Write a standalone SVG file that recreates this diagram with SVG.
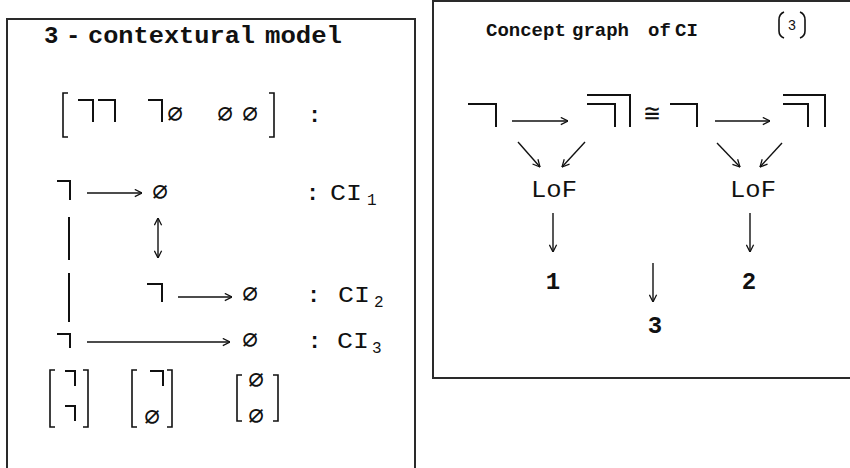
<svg xmlns="http://www.w3.org/2000/svg" width="850" height="468" viewBox="0 0 850 468">
<style>
.box{fill:#fff;stroke:#2a2a2a;stroke-width:2}
.mk{fill:none;stroke:#111;stroke-width:2}
.br{fill:none;stroke:#111;stroke-width:1.6}
.ar{fill:none;stroke:#111;stroke-width:1.4}
.tb{font-family:"Liberation Mono","Courier New",monospace;font-weight:bold;fill:#111}
.tr{font-family:"Liberation Mono","Courier New",monospace;fill:#111}
.es{font-family:"DejaVu Sans Mono","DejaVu Sans",monospace;fill:#111;font-size:26px;text-anchor:middle}
</style>
<defs>
<marker id="ah" viewBox="0 0 10 10" refX="9.5" refY="5" markerWidth="9" markerHeight="9" markerUnits="userSpaceOnUse" orient="auto-start-reverse">
<path d="M1.5,1 L9.5,5 L1.5,9" fill="none" stroke="#111" stroke-width="1.4"/>
</marker>
</defs>
<rect width="850" height="468" fill="#fff"/>
<g id="left-panel">
<rect class="box" x="7" y="19" width="408" height="470"/>
<text class="tb" font-size="24" y="43"><tspan x="44">3</tspan><tspan x="66">-</tspan></text>
<text class="tb" font-size="24" x="88" y="43" textLength="167" lengthAdjust="spacingAndGlyphs">contextural</text>
<text class="tb" font-size="24" x="265" y="43" textLength="77" lengthAdjust="spacingAndGlyphs">model</text>
</g>
<g id="node-row-patterns">
<path class="br" d="M68 93 H63 V137 H68 M269 93 H274 V137 H269"/>
<path class="mk" d="M78 100 H93 V122 M98 100 H115 V122 M148 100 H162 V122"/>
<text class="es" x="175" y="122">∅</text>
<text class="es" x="225" y="122">∅</text>
<text class="es" x="250" y="122">∅</text>
<text class="tb" font-size="22" x="308" y="122">:</text>
</g>
<g id="node-ci1">
<path class="mk" d="M57 181 H70 V200"/>
<text class="es" x="160" y="200">∅</text>
<text class="tb" font-size="22" x="306" y="200">:</text>
<text class="tr" font-size="22" x="330" y="200" textLength="32" lengthAdjust="spacingAndGlyphs">CI</text>
<text class="tr" font-size="16" x="367" y="205">1</text>
</g>
<g id="node-ci2">
<path class="mk" d="M147 284 H162 V302"/>
<text class="es" x="250" y="302">∅</text>
<text class="tb" font-size="22" x="307" y="302">:</text>
<text class="tr" font-size="22" x="338" y="302" textLength="32" lengthAdjust="spacingAndGlyphs">CI</text>
<text class="tr" font-size="16" x="374" y="307">2</text>
</g>
<g id="node-ci3">
<path class="mk" d="M57 334 H70 V348"/>
<text class="es" x="250" y="348">∅</text>
<text class="tb" font-size="22" x="308" y="348">:</text>
<text class="tr" font-size="22" x="337" y="348" textLength="32" lengthAdjust="spacingAndGlyphs">CI</text>
<text class="tr" font-size="16" x="372" y="353">3</text>
</g>
<g id="node-matrices">
<path class="br" d="M55 370 H50 V427 H55 M83 370 H88 V427 H83"/>
<path class="mk" d="M65 371 H75 V386 M65 406 H75 V421"/>
<path class="br" d="M137 370 H132 V427 H137 M167 370 H172 V427 H167"/>
<path class="mk" d="M150 371 H163 V386"/>
<text class="es" x="152" y="425">∅</text>
<path class="br" d="M242 375 H237 V421 H242 M273 375 H278 V421 H273"/>
<text class="es" x="256" y="388">∅</text>
<text class="es" x="256" y="424">∅</text>
</g>
<g id="right-panel">
<rect class="box" x="433" y="1" width="430" height="377"/>
<text class="tb" font-size="19" y="36"><tspan x="486">Concept</tspan><tspan x="572">graph</tspan><tspan x="648">of</tspan><tspan x="675">CI</tspan></text>
<path class="br" stroke-width="1.2" d="M784 12 Q779 14 779 20 V31 Q779 36 784 38 M800 12 Q805 14 805 20 V31 Q805 36 800 38"/>
<text class="tr" font-size="14" x="792" y="30" text-anchor="middle">3</text>
</g>
<g id="node-left-graph">
<path class="mk" d="M468 104 H496 V127"/>
<path class="mk" d="M587 95 H630 V127 M587 104 H615 V127"/>
<text class="tr" font-size="24" x="531" y="197" textLength="46" lengthAdjust="spacingAndGlyphs">LoF</text>
<text class="tb" font-size="24" x="553" y="289" text-anchor="middle">1</text>
</g>
<g id="node-iso">
<text class="es" font-size="15" x="652" y="122">≅</text>
</g>
<g id="node-right-graph">
<path class="mk" d="M670 104 H697 V127"/>
<path class="mk" d="M783 95 H825 V127 M783 104 H808 V127"/>
<text class="tr" font-size="24" x="730" y="197" textLength="46" lengthAdjust="spacingAndGlyphs">LoF</text>
<text class="tb" font-size="24" x="749" y="289" text-anchor="middle">2</text>
</g>
<g id="node-three">
<text class="tb" font-size="24" x="655" y="333" text-anchor="middle">3</text>
</g>
<g id="connectors">
<path class="mk" d="M69 217 V260 M69 273 V322"/>
<line class="ar" x1="87" y1="193" x2="142" y2="193" marker-end="url(#ah)"/>
<line class="ar" x1="158" y1="218" x2="158" y2="258" marker-start="url(#ah)" marker-end="url(#ah)"/>
<line class="ar" x1="178" y1="297" x2="232" y2="297" marker-end="url(#ah)"/>
<line class="ar" x1="87" y1="342" x2="230" y2="342" marker-end="url(#ah)"/>
<line class="ar" x1="512" y1="121" x2="568" y2="121" marker-end="url(#ah)"/>
<line class="ar" x1="715" y1="121" x2="770" y2="121" marker-end="url(#ah)"/>
<line class="ar" x1="518" y1="142" x2="540" y2="167" marker-end="url(#ah)"/>
<line class="ar" x1="585" y1="142" x2="562" y2="167" marker-end="url(#ah)"/>
<line class="ar" x1="717" y1="143" x2="740" y2="167" marker-end="url(#ah)"/>
<line class="ar" x1="782" y1="143" x2="760" y2="167" marker-end="url(#ah)"/>
<line class="ar" x1="553" y1="213" x2="553" y2="252" marker-end="url(#ah)"/>
<line class="ar" x1="750" y1="213" x2="750" y2="252" marker-end="url(#ah)"/>
<line class="ar" x1="653" y1="263" x2="653" y2="302" marker-end="url(#ah)"/>
</g>
</svg>
